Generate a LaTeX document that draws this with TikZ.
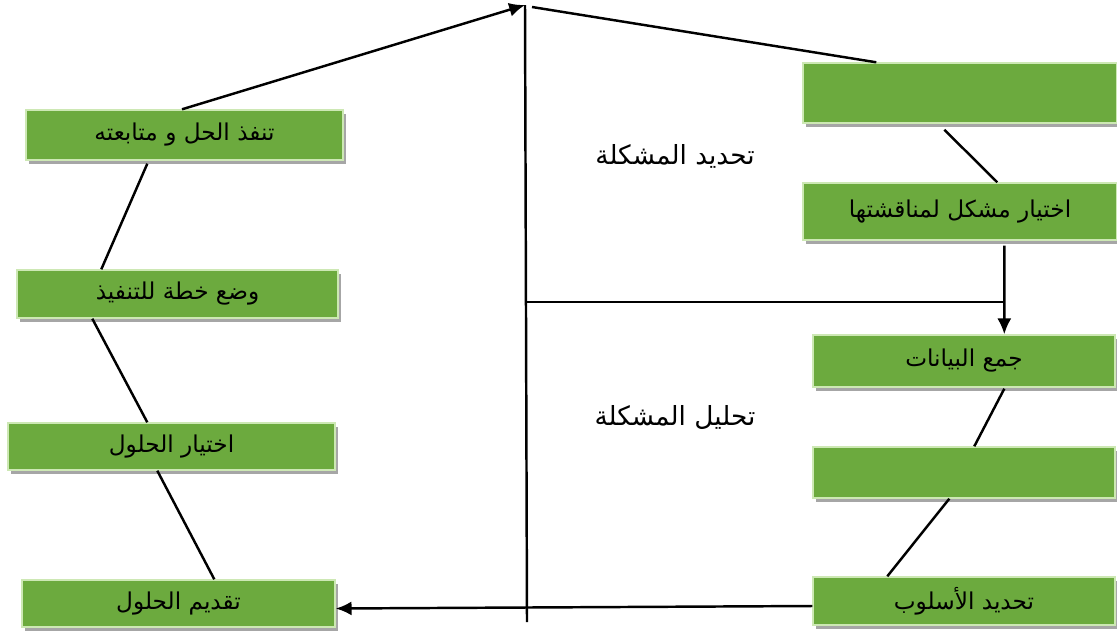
\documentclass[tikz,border=0pt]{standalone}
\usepackage{fontspec}
\usetikzlibrary{shadows,arrows.meta}
\newfontfamily\arabicfont[Script=Arabic]{DejaVu Sans}
\TeXXeTstate=1
\definecolor{boxgreen}{RGB}{108,170,62}
\definecolor{boxedge}{RGB}{205,232,180}
\newcommand{\ar}[1]{\arabicfont\beginR #1\endR}

\begin{document}
\begin{tikzpicture}[stage/.style={rectangle,fill=boxgreen,draw=boxedge,line width=0.8pt,
    inner sep=0pt,font=\fontsize{13.2}{16}\selectfont,
    drop shadow={shadow xshift=1.5pt,shadow yshift=-2.5pt,fill=gray!70,opacity=1}},
  link/.style={line width=1.4pt},
  tip/.style={-{Latex[length=9pt,width=8pt]}},
  title/.style={font=\fontsize{15}{18}\selectfont}]
\useasboundingbox (0,0) rectangle (22.34,-12.72);
% left column
\node [stage,minimum width=6.34cm,minimum height=1cm] (e) at (3.69,-2.70) {\ar{تنفذ الحل و متابعته}};
\node [stage,minimum width=6.42cm,minimum height=0.96cm] (p) at (3.55,-5.88) {\ar{وضع خطة للتنفيذ}};
\node [stage,minimum width=6.54cm,minimum height=0.94cm] (c) at (3.43,-8.93) {\ar{اختيار  الحلول}};
\node [stage,minimum width=6.26cm,minimum height=0.94cm] (o) at (3.57,-12.07) {\ar{تقديم الحلول}};
% right column
\node [stage,minimum width=6.28cm,minimum height=1.2cm] (b1) at (19.2,-1.86) {};
\node [stage,minimum width=6.28cm,minimum height=1.14cm] (k) at (19.2,-4.23) {\ar{اختيار مشكل لمناقشتها}};
\node [stage,minimum width=6.04cm,minimum height=1.04cm] (g) at (19.28,-7.22) {\ar{جمع البيانات}};
\node [stage,minimum width=6.04cm,minimum height=1.02cm] (b2) at (19.28,-9.45) {};
\node [stage,minimum width=6.04cm,minimum height=0.96cm] (m) at (19.28,-12.02) {\ar{تحديد الأسلوب}};
% middle
\coordinate (top) at (10.5,-0.1);
\coordinate (bot) at (10.54,-12.44);
\coordinate (fork) at (10.53,-6.04);
\node [title] (t1) at (13.5,-3.12) {\ar{تحديد المشكلة}};
\node [title] (t2) at (13.5,-8.34) {\ar{تحليل المشكلة}};

\draw [link,tip] ([xshift=-0.05cm]e.north) -- (top);
\draw [link] (top) -- (bot);
\draw [link] ([xshift=0.14cm,yshift=-0.04cm]top) -- ([xshift=1.48cm]b1.north west);
\draw [link] ([xshift=2.84cm,yshift=-0.12cm]b1.south west) -- ([xshift=3.9cm]k.north west);
\draw [link,tip] ([xshift=4.04cm,yshift=-0.1cm]k.south west) -- ([xshift=3.84cm]g.north west);
\draw [link] (fork) -- ([xshift=3.84cm]g.north west |- fork);
\draw [link] ([xshift=3.84cm,yshift=-0.02cm]g.south west) -- ([xshift=3.24cm]b2.north west);
\draw [link] ([xshift=2.74cm]b2.south west) -- ([xshift=1.5cm]m.north west);
\draw [link,tip] ([yshift=-0.1cm]m.west) -- ([yshift=-0.1cm]o.east);
\draw [link] ([xshift=2.44cm,yshift=-0.06cm]e.south west) -- ([xshift=1.7cm]p.north west);
\draw [link] ([xshift=1.52cm]p.south west) -- ([xshift=2.8cm]c.north west);
\draw [link] ([xshift=3.0cm]c.south west) -- ([xshift=3.86cm]o.north west);
\end{tikzpicture}
\end{document}
